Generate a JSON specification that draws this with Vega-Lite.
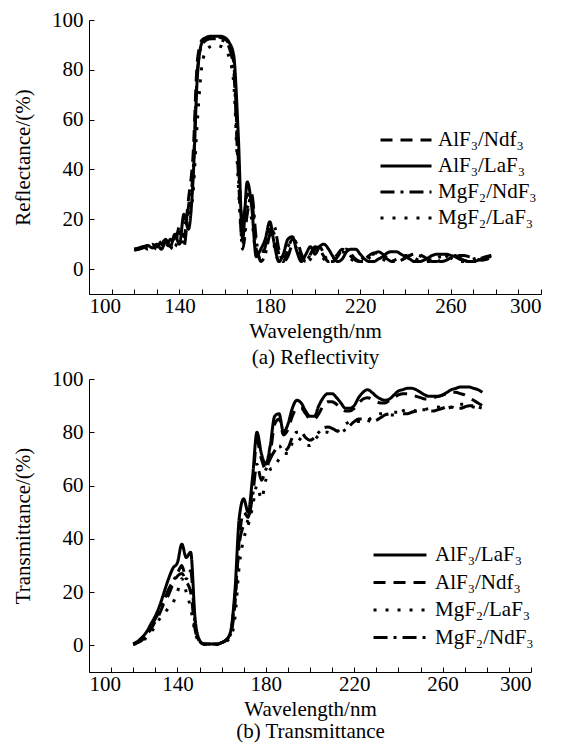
{
"$schema":"https://vega.github.io/schema/vega-lite/v6.json",
"padding":{"left":12,"top":9,"right":20,"bottom":5},
"config":{"font":"Liberation Serif","view":{"stroke":null},
 "axis":{"domainColor":"black","tickColor":"black","labelColor":"black","titleColor":"black","labelFontSize":21,"titleFontSize":21,"titleFontWeight":"normal","grid":false,"tickSize":-5,"labelPadding":11,"labelFont":"Liberation Serif","titleFont":"Liberation Serif"},
 "legend":{"labelFont":"Liberation Serif","labelFontSize":21,"labelColor":"black","padding":0}},
"datasets":{
"R":[
{"s":"a","w":120,"v":8},{"s":"a","w":122,"v":8},{"s":"a","w":124,"v":9},{"s":"a","w":126,"v":8.5},{"s":"a","w":128,"v":10},{"s":"a","w":130,"v":9},{"s":"a","w":132,"v":11},{"s":"a","w":134,"v":9},{"s":"a","w":136,"v":12},{"s":"a","w":138,"v":10},{"s":"a","w":140,"v":17},{"s":"a","w":142,"v":13},{"s":"a","w":144,"v":28},{"s":"a","w":146,"v":45},{"s":"a","w":148,"v":84},{"s":"a","w":150,"v":92},{"s":"a","w":152,"v":93},{"s":"a","w":154,"v":93.5},{"s":"a","w":156,"v":93.5},{"s":"a","w":158,"v":93},{"s":"a","w":160,"v":92.5},{"s":"a","w":162,"v":90},{"s":"a","w":164,"v":83},{"s":"a","w":166,"v":45},{"s":"a","w":168,"v":18},{"s":"a","w":170,"v":30},{"s":"a","w":172,"v":28},{"s":"a","w":174,"v":8},{"s":"a","w":176,"v":4},{"s":"a","w":178,"v":9},{"s":"a","w":180,"v":16},{"s":"a","w":182,"v":14},{"s":"a","w":184,"v":6},{"s":"a","w":186,"v":3},{"s":"a","w":188,"v":8},{"s":"a","w":190,"v":12},{"s":"a","w":192,"v":10},{"s":"a","w":194,"v":5},{"s":"a","w":196,"v":3},{"s":"a","w":198,"v":6},{"s":"a","w":200,"v":9},{"s":"a","w":202,"v":8},{"s":"a","w":204,"v":5},{"s":"a","w":206,"v":3},{"s":"a","w":208,"v":4},{"s":"a","w":210,"v":6},{"s":"a","w":212,"v":8},{"s":"a","w":214,"v":7},{"s":"a","w":216,"v":5},{"s":"a","w":218,"v":3.5},{"s":"a","w":220,"v":3},{"s":"a","w":222,"v":4},{"s":"a","w":224,"v":5.5},{"s":"a","w":226,"v":6.5},{"s":"a","w":228,"v":6.5},{"s":"a","w":230,"v":5.5},{"s":"a","w":232,"v":4},{"s":"a","w":234,"v":3},{"s":"a","w":236,"v":3},{"s":"a","w":238,"v":3.5},{"s":"a","w":240,"v":4.5},{"s":"a","w":242,"v":5.5},{"s":"a","w":244,"v":6},{"s":"a","w":246,"v":6},{"s":"a","w":248,"v":5},{"s":"a","w":250,"v":4},{"s":"a","w":252,"v":3.5},{"s":"a","w":254,"v":3},{"s":"a","w":256,"v":3},{"s":"a","w":258,"v":3.5},{"s":"a","w":260,"v":4.5},{"s":"a","w":262,"v":5},{"s":"a","w":264,"v":5.5},{"s":"a","w":266,"v":5.5},{"s":"a","w":268,"v":5},{"s":"a","w":270,"v":4.5},{"s":"a","w":272,"v":4},{"s":"a","w":274,"v":3.5},{"s":"a","w":276,"v":4},{"s":"a","w":278,"v":4.5},
{"s":"b","w":120,"v":8},{"s":"b","w":122,"v":8.5},{"s":"b","w":124,"v":9},{"s":"b","w":126,"v":9.5},{"s":"b","w":128,"v":8.5},{"s":"b","w":130,"v":10},{"s":"b","w":132,"v":8},{"s":"b","w":134,"v":11},{"s":"b","w":136,"v":9},{"s":"b","w":138,"v":14},{"s":"b","w":140,"v":10},{"s":"b","w":142,"v":22},{"s":"b","w":144,"v":16},{"s":"b","w":146,"v":35},{"s":"b","w":148,"v":78},{"s":"b","w":150,"v":91},{"s":"b","w":152,"v":93},{"s":"b","w":154,"v":93.5},{"s":"b","w":156,"v":93.5},{"s":"b","w":158,"v":93.5},{"s":"b","w":160,"v":93},{"s":"b","w":162,"v":91},{"s":"b","w":164,"v":86},{"s":"b","w":166,"v":55},{"s":"b","w":168,"v":12},{"s":"b","w":170,"v":35},{"s":"b","w":172,"v":25},{"s":"b","w":174,"v":5},{"s":"b","w":176,"v":8},{"s":"b","w":178,"v":12},{"s":"b","w":180,"v":19},{"s":"b","w":182,"v":10},{"s":"b","w":184,"v":3},{"s":"b","w":186,"v":6},{"s":"b","w":188,"v":12},{"s":"b","w":190,"v":13},{"s":"b","w":192,"v":7},{"s":"b","w":194,"v":3},{"s":"b","w":196,"v":6},{"s":"b","w":198,"v":9},{"s":"b","w":200,"v":6},{"s":"b","w":202,"v":9},{"s":"b","w":204,"v":10},{"s":"b","w":206,"v":8},{"s":"b","w":208,"v":5},{"s":"b","w":210,"v":3},{"s":"b","w":212,"v":4},{"s":"b","w":214,"v":7},{"s":"b","w":216,"v":8},{"s":"b","w":218,"v":8},{"s":"b","w":220,"v":6},{"s":"b","w":222,"v":4},{"s":"b","w":224,"v":3},{"s":"b","w":226,"v":3},{"s":"b","w":228,"v":4},{"s":"b","w":230,"v":5},{"s":"b","w":232,"v":6.5},{"s":"b","w":234,"v":7},{"s":"b","w":236,"v":7},{"s":"b","w":238,"v":6},{"s":"b","w":240,"v":5},{"s":"b","w":242,"v":4},{"s":"b","w":244,"v":3},{"s":"b","w":246,"v":3},{"s":"b","w":248,"v":3.5},{"s":"b","w":250,"v":4.5},{"s":"b","w":252,"v":5.5},{"s":"b","w":254,"v":6},{"s":"b","w":256,"v":6},{"s":"b","w":258,"v":6},{"s":"b","w":260,"v":5.5},{"s":"b","w":262,"v":5},{"s":"b","w":264,"v":4},{"s":"b","w":266,"v":3.5},{"s":"b","w":268,"v":3},{"s":"b","w":270,"v":3},{"s":"b","w":272,"v":3.5},{"s":"b","w":274,"v":4},{"s":"b","w":276,"v":5},{"s":"b","w":278,"v":5.5},
{"s":"c","w":120,"v":7.5},{"s":"c","w":122,"v":8},{"s":"c","w":124,"v":8.5},{"s":"c","w":126,"v":9},{"s":"c","w":128,"v":9},{"s":"c","w":130,"v":8},{"s":"c","w":132,"v":10},{"s":"c","w":134,"v":12},{"s":"c","w":136,"v":8},{"s":"c","w":138,"v":13},{"s":"c","w":140,"v":15},{"s":"c","w":142,"v":9},{"s":"c","w":144,"v":25},{"s":"c","w":146,"v":38},{"s":"c","w":148,"v":80},{"s":"c","w":150,"v":90},{"s":"c","w":152,"v":92},{"s":"c","w":154,"v":92.5},{"s":"c","w":156,"v":92.5},{"s":"c","w":158,"v":92},{"s":"c","w":160,"v":91.5},{"s":"c","w":162,"v":89},{"s":"c","w":164,"v":80},{"s":"c","w":166,"v":40},{"s":"c","w":168,"v":8},{"s":"c","w":170,"v":22},{"s":"c","w":172,"v":30},{"s":"c","w":174,"v":12},{"s":"c","w":176,"v":3},{"s":"c","w":178,"v":6},{"s":"c","w":180,"v":14},{"s":"c","w":182,"v":17},{"s":"c","w":184,"v":8},{"s":"c","w":186,"v":3},{"s":"c","w":188,"v":5},{"s":"c","w":190,"v":10},{"s":"c","w":192,"v":11},{"s":"c","w":194,"v":6},{"s":"c","w":196,"v":3},{"s":"c","w":198,"v":4},{"s":"c","w":200,"v":8},{"s":"c","w":202,"v":9},{"s":"c","w":204,"v":6},{"s":"c","w":206,"v":3},{"s":"c","w":208,"v":3},{"s":"c","w":210,"v":5},{"s":"c","w":212,"v":7.5},{"s":"c","w":214,"v":8},{"s":"c","w":216,"v":6},{"s":"c","w":218,"v":4},{"s":"c","w":220,"v":3},{"s":"c","w":222,"v":3},{"s":"c","w":224,"v":4.5},{"s":"c","w":226,"v":6},{"s":"c","w":228,"v":7},{"s":"c","w":230,"v":6},{"s":"c","w":232,"v":4.5},{"s":"c","w":234,"v":3.5},{"s":"c","w":236,"v":3},{"s":"c","w":238,"v":3.5},{"s":"c","w":240,"v":4.5},{"s":"c","w":242,"v":5.5},{"s":"c","w":244,"v":6},{"s":"c","w":246,"v":5.5},{"s":"c","w":248,"v":4.5},{"s":"c","w":250,"v":3.5},{"s":"c","w":252,"v":3},{"s":"c","w":254,"v":3},{"s":"c","w":256,"v":4},{"s":"c","w":258,"v":5},{"s":"c","w":260,"v":5.5},{"s":"c","w":262,"v":5.5},{"s":"c","w":264,"v":4.5},{"s":"c","w":266,"v":3.5},{"s":"c","w":268,"v":3},{"s":"c","w":270,"v":3},{"s":"c","w":272,"v":3.5},{"s":"c","w":274,"v":4.5},{"s":"c","w":276,"v":5},{"s":"c","w":278,"v":5},
{"s":"d","w":120,"v":8},{"s":"d","w":122,"v":8},{"s":"d","w":124,"v":9},{"s":"d","w":126,"v":8},{"s":"d","w":128,"v":9.5},{"s":"d","w":130,"v":9},{"s":"d","w":132,"v":9},{"s":"d","w":134,"v":10},{"s":"d","w":136,"v":11},{"s":"d","w":138,"v":9},{"s":"d","w":140,"v":14},{"s":"d","w":142,"v":18},{"s":"d","w":144,"v":20},{"s":"d","w":146,"v":30},{"s":"d","w":148,"v":60},{"s":"d","w":150,"v":82},{"s":"d","w":152,"v":88},{"s":"d","w":154,"v":89.5},{"s":"d","w":156,"v":90},{"s":"d","w":158,"v":89.5},{"s":"d","w":160,"v":88.5},{"s":"d","w":162,"v":85},{"s":"d","w":164,"v":75},{"s":"d","w":166,"v":35},{"s":"d","w":168,"v":10},{"s":"d","w":170,"v":25},{"s":"d","w":172,"v":20},{"s":"d","w":174,"v":6},{"s":"d","w":176,"v":5},{"s":"d","w":178,"v":10},{"s":"d","w":180,"v":15},{"s":"d","w":182,"v":9},{"s":"d","w":184,"v":3},{"s":"d","w":186,"v":4},{"s":"d","w":188,"v":9},{"s":"d","w":190,"v":11},{"s":"d","w":192,"v":8},{"s":"d","w":194,"v":4},{"s":"d","w":196,"v":3},{"s":"d","w":198,"v":6},{"s":"d","w":200,"v":8},{"s":"d","w":202,"v":7},{"s":"d","w":204,"v":4},{"s":"d","w":206,"v":3},{"s":"d","w":208,"v":4},{"s":"d","w":210,"v":6},{"s":"d","w":212,"v":7},{"s":"d","w":214,"v":6},{"s":"d","w":216,"v":4},{"s":"d","w":218,"v":3},{"s":"d","w":220,"v":3.5},{"s":"d","w":222,"v":5},{"s":"d","w":224,"v":6},{"s":"d","w":226,"v":6},{"s":"d","w":228,"v":5},{"s":"d","w":230,"v":4},{"s":"d","w":232,"v":3},{"s":"d","w":234,"v":3},{"s":"d","w":236,"v":4},{"s":"d","w":238,"v":5},{"s":"d","w":240,"v":5.5},{"s":"d","w":242,"v":5.5},{"s":"d","w":244,"v":4.5},{"s":"d","w":246,"v":3.5},{"s":"d","w":248,"v":3},{"s":"d","w":250,"v":3},{"s":"d","w":252,"v":3.5},{"s":"d","w":254,"v":4.5},{"s":"d","w":256,"v":5},{"s":"d","w":258,"v":5},{"s":"d","w":260,"v":4.5},{"s":"d","w":262,"v":3.5},{"s":"d","w":264,"v":3},{"s":"d","w":266,"v":3},{"s":"d","w":268,"v":3.5},{"s":"d","w":270,"v":4},{"s":"d","w":272,"v":4.5},{"s":"d","w":274,"v":4.5},{"s":"d","w":276,"v":4},{"s":"d","w":278,"v":4}
],
"T":[
{"s":"a","w":120,"v":0.5},{"s":"a","w":122,"v":1},{"s":"a","w":124,"v":2},{"s":"a","w":126,"v":4},{"s":"a","w":128,"v":6},{"s":"a","w":130,"v":9},{"s":"a","w":132,"v":12},{"s":"a","w":134,"v":16},{"s":"a","w":136,"v":19},{"s":"a","w":138,"v":23},{"s":"a","w":140,"v":26},{"s":"a","w":142,"v":27},{"s":"a","w":144,"v":24},{"s":"a","w":146,"v":20},{"s":"a","w":148,"v":6},{"s":"a","w":150,"v":1.5},{"s":"a","w":152,"v":0.5},{"s":"a","w":154,"v":0.5},{"s":"a","w":156,"v":0.5},{"s":"a","w":158,"v":0.5},{"s":"a","w":160,"v":1},{"s":"a","w":162,"v":2},{"s":"a","w":164,"v":4},{"s":"a","w":166,"v":15},{"s":"a","w":168,"v":40},{"s":"a","w":170,"v":50},{"s":"a","w":172,"v":48},{"s":"a","w":174,"v":60},{"s":"a","w":176,"v":77},{"s":"a","w":178,"v":70},{"s":"a","w":180,"v":66},{"s":"a","w":182,"v":72},{"s":"a","w":184,"v":83},{"s":"a","w":186,"v":85},{"s":"a","w":188,"v":79},{"s":"a","w":190,"v":81},{"s":"a","w":192,"v":86},{"s":"a","w":194,"v":89},{"s":"a","w":196,"v":89},{"s":"a","w":198,"v":87},{"s":"a","w":200,"v":85},{"s":"a","w":202,"v":85},{"s":"a","w":204,"v":87},{"s":"a","w":206,"v":90},{"s":"a","w":208,"v":91.5},{"s":"a","w":210,"v":91.5},{"s":"a","w":212,"v":90.5},{"s":"a","w":214,"v":89},{"s":"a","w":216,"v":88},{"s":"a","w":218,"v":88},{"s":"a","w":220,"v":89},{"s":"a","w":222,"v":91},{"s":"a","w":224,"v":92.5},{"s":"a","w":226,"v":93},{"s":"a","w":228,"v":92.5},{"s":"a","w":230,"v":91.5},{"s":"a","w":232,"v":91},{"s":"a","w":234,"v":91},{"s":"a","w":236,"v":92},{"s":"a","w":238,"v":93},{"s":"a","w":240,"v":94},{"s":"a","w":242,"v":94.5},{"s":"a","w":244,"v":94.5},{"s":"a","w":246,"v":94},{"s":"a","w":248,"v":93.5},{"s":"a","w":250,"v":93},{"s":"a","w":252,"v":92.5},{"s":"a","w":254,"v":92.5},{"s":"a","w":256,"v":93},{"s":"a","w":258,"v":93.5},{"s":"a","w":260,"v":94},{"s":"a","w":262,"v":94.5},{"s":"a","w":264,"v":95},{"s":"a","w":266,"v":95},{"s":"a","w":268,"v":94.5},{"s":"a","w":270,"v":94},{"s":"a","w":272,"v":93},{"s":"a","w":274,"v":92},{"s":"a","w":276,"v":91},{"s":"a","w":278,"v":90},
{"s":"b","w":120,"v":0.5},{"s":"b","w":122,"v":1.5},{"s":"b","w":124,"v":3},{"s":"b","w":126,"v":5},{"s":"b","w":128,"v":8},{"s":"b","w":130,"v":11},{"s":"b","w":132,"v":15},{"s":"b","w":134,"v":20},{"s":"b","w":136,"v":25},{"s":"b","w":138,"v":29},{"s":"b","w":140,"v":31},{"s":"b","w":142,"v":38},{"s":"b","w":144,"v":33},{"s":"b","w":146,"v":35},{"s":"b","w":148,"v":10},{"s":"b","w":150,"v":2},{"s":"b","w":152,"v":0.5},{"s":"b","w":154,"v":0.5},{"s":"b","w":156,"v":0.5},{"s":"b","w":158,"v":0.5},{"s":"b","w":160,"v":1},{"s":"b","w":162,"v":2},{"s":"b","w":164,"v":5},{"s":"b","w":166,"v":20},{"s":"b","w":168,"v":48},{"s":"b","w":170,"v":55},{"s":"b","w":172,"v":50},{"s":"b","w":174,"v":63},{"s":"b","w":176,"v":80},{"s":"b","w":178,"v":72},{"s":"b","w":180,"v":68},{"s":"b","w":182,"v":75},{"s":"b","w":184,"v":86},{"s":"b","w":186,"v":87},{"s":"b","w":188,"v":80},{"s":"b","w":190,"v":83},{"s":"b","w":192,"v":89},{"s":"b","w":194,"v":92},{"s":"b","w":196,"v":91},{"s":"b","w":198,"v":88},{"s":"b","w":200,"v":86},{"s":"b","w":202,"v":86},{"s":"b","w":204,"v":90},{"s":"b","w":206,"v":93},{"s":"b","w":208,"v":94.5},{"s":"b","w":210,"v":94.5},{"s":"b","w":212,"v":93},{"s":"b","w":214,"v":91},{"s":"b","w":216,"v":89},{"s":"b","w":218,"v":89},{"s":"b","w":220,"v":90},{"s":"b","w":222,"v":93},{"s":"b","w":224,"v":95},{"s":"b","w":226,"v":96},{"s":"b","w":228,"v":95},{"s":"b","w":230,"v":93.5},{"s":"b","w":232,"v":92.5},{"s":"b","w":234,"v":92},{"s":"b","w":236,"v":92.5},{"s":"b","w":238,"v":94},{"s":"b","w":240,"v":95.5},{"s":"b","w":242,"v":96},{"s":"b","w":244,"v":96.5},{"s":"b","w":246,"v":96.5},{"s":"b","w":248,"v":96},{"s":"b","w":250,"v":95},{"s":"b","w":252,"v":94},{"s":"b","w":254,"v":93.5},{"s":"b","w":256,"v":93.5},{"s":"b","w":258,"v":93.5},{"s":"b","w":260,"v":94},{"s":"b","w":262,"v":95},{"s":"b","w":264,"v":96},{"s":"b","w":266,"v":96.5},{"s":"b","w":268,"v":97},{"s":"b","w":270,"v":97},{"s":"b","w":272,"v":97},{"s":"b","w":274,"v":96.5},{"s":"b","w":276,"v":96},{"s":"b","w":278,"v":95},
{"s":"c","w":120,"v":0.5},{"s":"c","w":122,"v":1.2},{"s":"c","w":124,"v":2.5},{"s":"c","w":126,"v":4.5},{"s":"c","w":128,"v":7},{"s":"c","w":130,"v":10},{"s":"c","w":132,"v":13},{"s":"c","w":134,"v":17},{"s":"c","w":136,"v":21},{"s":"c","w":138,"v":24},{"s":"c","w":140,"v":27},{"s":"c","w":142,"v":30},{"s":"c","w":144,"v":25},{"s":"c","w":146,"v":28},{"s":"c","w":148,"v":8},{"s":"c","w":150,"v":1.5},{"s":"c","w":152,"v":0.5},{"s":"c","w":154,"v":0.5},{"s":"c","w":156,"v":0.5},{"s":"c","w":158,"v":0.5},{"s":"c","w":160,"v":1},{"s":"c","w":162,"v":2},{"s":"c","w":164,"v":4},{"s":"c","w":166,"v":18},{"s":"c","w":168,"v":38},{"s":"c","w":170,"v":45},{"s":"c","w":172,"v":47},{"s":"c","w":174,"v":56},{"s":"c","w":176,"v":68},{"s":"c","w":178,"v":62},{"s":"c","w":180,"v":66},{"s":"c","w":182,"v":70},{"s":"c","w":184,"v":73},{"s":"c","w":186,"v":75},{"s":"c","w":188,"v":73},{"s":"c","w":190,"v":74},{"s":"c","w":192,"v":78},{"s":"c","w":194,"v":80},{"s":"c","w":196,"v":80},{"s":"c","w":198,"v":78},{"s":"c","w":200,"v":77},{"s":"c","w":202,"v":78},{"s":"c","w":204,"v":80},{"s":"c","w":206,"v":81.5},{"s":"c","w":208,"v":82},{"s":"c","w":210,"v":81.5},{"s":"c","w":212,"v":80.5},{"s":"c","w":214,"v":80},{"s":"c","w":216,"v":81},{"s":"c","w":218,"v":82.5},{"s":"c","w":220,"v":84},{"s":"c","w":222,"v":85},{"s":"c","w":224,"v":85},{"s":"c","w":226,"v":84.5},{"s":"c","w":228,"v":84},{"s":"c","w":230,"v":84.5},{"s":"c","w":232,"v":85.5},{"s":"c","w":234,"v":86.5},{"s":"c","w":236,"v":87},{"s":"c","w":238,"v":87.5},{"s":"c","w":240,"v":87.5},{"s":"c","w":242,"v":87},{"s":"c","w":244,"v":87},{"s":"c","w":246,"v":87.5},{"s":"c","w":248,"v":88},{"s":"c","w":250,"v":88.5},{"s":"c","w":252,"v":88.5},{"s":"c","w":254,"v":88},{"s":"c","w":256,"v":88},{"s":"c","w":258,"v":88.5},{"s":"c","w":260,"v":89},{"s":"c","w":262,"v":89.5},{"s":"c","w":264,"v":89.5},{"s":"c","w":266,"v":89},{"s":"c","w":268,"v":89},{"s":"c","w":270,"v":89.5},{"s":"c","w":272,"v":90},{"s":"c","w":274,"v":90},{"s":"c","w":276,"v":89.5},{"s":"c","w":278,"v":89},
{"s":"d","w":120,"v":0.3},{"s":"d","w":122,"v":0.8},{"s":"d","w":124,"v":1.5},{"s":"d","w":126,"v":3},{"s":"d","w":128,"v":5},{"s":"d","w":130,"v":7},{"s":"d","w":132,"v":10},{"s":"d","w":134,"v":12},{"s":"d","w":136,"v":14},{"s":"d","w":138,"v":16},{"s":"d","w":140,"v":20},{"s":"d","w":142,"v":25},{"s":"d","w":144,"v":20},{"s":"d","w":146,"v":14},{"s":"d","w":148,"v":5},{"s":"d","w":150,"v":1},{"s":"d","w":152,"v":0.3},{"s":"d","w":154,"v":0.3},{"s":"d","w":156,"v":0.3},{"s":"d","w":158,"v":0.3},{"s":"d","w":160,"v":0.5},{"s":"d","w":162,"v":1.5},{"s":"d","w":164,"v":3},{"s":"d","w":166,"v":10},{"s":"d","w":168,"v":30},{"s":"d","w":170,"v":40},{"s":"d","w":172,"v":45},{"s":"d","w":174,"v":52},{"s":"d","w":176,"v":60},{"s":"d","w":178,"v":55},{"s":"d","w":180,"v":62},{"s":"d","w":182,"v":66},{"s":"d","w":184,"v":67},{"s":"d","w":186,"v":70},{"s":"d","w":188,"v":72},{"s":"d","w":190,"v":72},{"s":"d","w":192,"v":76},{"s":"d","w":194,"v":78},{"s":"d","w":196,"v":77},{"s":"d","w":198,"v":75},{"s":"d","w":200,"v":75},{"s":"d","w":202,"v":77},{"s":"d","w":204,"v":79},{"s":"d","w":206,"v":80},{"s":"d","w":208,"v":80},{"s":"d","w":210,"v":79.5},{"s":"d","w":212,"v":80},{"s":"d","w":214,"v":81.5},{"s":"d","w":216,"v":83},{"s":"d","w":218,"v":84},{"s":"d","w":220,"v":84.5},{"s":"d","w":222,"v":84},{"s":"d","w":224,"v":84},{"s":"d","w":226,"v":84.5},{"s":"d","w":228,"v":85.5},{"s":"d","w":230,"v":86.5},{"s":"d","w":232,"v":87},{"s":"d","w":234,"v":87},{"s":"d","w":236,"v":86.5},{"s":"d","w":238,"v":86.5},{"s":"d","w":240,"v":87},{"s":"d","w":242,"v":88},{"s":"d","w":244,"v":88.5},{"s":"d","w":246,"v":88.5},{"s":"d","w":248,"v":88},{"s":"d","w":250,"v":88},{"s":"d","w":252,"v":88.5},{"s":"d","w":254,"v":89},{"s":"d","w":256,"v":89.5},{"s":"d","w":258,"v":89.5},{"s":"d","w":260,"v":89},{"s":"d","w":262,"v":89},{"s":"d","w":264,"v":89.5},{"s":"d","w":266,"v":90},{"s":"d","w":268,"v":90.5},{"s":"d","w":270,"v":90.5},{"s":"d","w":272,"v":90},{"s":"d","w":274,"v":89.5},{"s":"d","w":276,"v":89},{"s":"d","w":278,"v":88.5}
]},
"bounds":"flush",
"spacing":85,
"resolve":{"scale":{"strokeDash":"independent","x":"independent","y":"independent"},"legend":{"strokeDash":"independent"}},
"vconcat":[
{"width":452,"height":274,"data":{"name":"R"},
 "mark":{"type":"line","strokeWidth":3,"color":"black","interpolate":"monotone"},
 "encoding":{
  "x":{"field":"w","type":"quantitative","scale":{"domain":[100,300],"nice":false},
   "axis":{"values":[100,110,120,130,140,150,160,170,180,190,200,210,220,230,240,250,260,270,280,290,300],"labelExpr":"datum.value % 40 == 20 ? datum.label : ''","title":["Wavelength/nm","(a) Reflectivity"],"titleLineHeight":26,"labelPadding":6,"titlePadding":4}},
  "y":{"field":"v","type":"quantitative","scale":{"domain":[-10,100],"nice":false},
   "axis":{"values":[0,20,40,60,80,100],"title":"Reflectance/(%)","titlePadding":18}},
  "strokeDash":{"field":"s","type":"nominal","scale":{"domain":["a","b","c","d"],"range":[[12,8],[1,0],[14,6,3,6],[3,9]]},
   "legend":{"orient":"none","legendX":305,"legendY":108,"title":null,"symbolType":"M-2.43,0H2.43","symbolSize":441,"symbolStrokeWidth":3,"symbolStrokeColor":"black","symbolFillColor":"transparent","rowPadding":4,"labelOffset":20,
    "labelExpr":"datum.label == 'a' ? 'AlF₃/Ndf₃' : datum.label == 'b' ? 'AlF₃/LaF₃' : datum.label == 'c' ? 'MgF₂/NdF₃' : 'MgF₂/LaF₃'"}}
 }},
{"width":442,"height":293,"data":{"name":"T"},
 "mark":{"type":"line","strokeWidth":3,"color":"black","interpolate":"monotone"},
 "encoding":{
  "x":{"field":"w","type":"quantitative","scale":{"domain":[100,300],"nice":false},
   "axis":{"values":[100,110,120,130,140,150,160,170,180,190,200,210,220,230,240,250,260,270,280,290,300],"labelExpr":"datum.value % 40 == 20 ? datum.label : ''","title":["Wavelength/nm","(b) Transmittance"],"titleLineHeight":22,"labelPadding":6,"titlePadding":4}},
  "y":{"field":"v","type":"quantitative","scale":{"domain":[-10,100],"nice":false},
   "axis":{"values":[0,20,40,60,80,100],"title":"Transmittance/(%)","titlePadding":18}},
  "strokeDash":{"field":"s","type":"nominal","scale":{"domain":["b","a","d","c"],"range":[[1,0],[12,8],[3,9],[14,6,3,6]]},
   "legend":{"orient":"none","legendX":299,"legendY":164,"title":null,"symbolType":"M-2.52,0H2.52","symbolSize":441,"symbolStrokeWidth":3,"symbolStrokeColor":"black","symbolFillColor":"transparent","rowPadding":5.5,"labelOffset":23,
    "labelExpr":"datum.label == 'a' ? 'AlF₃/Ndf₃' : datum.label == 'b' ? 'AlF₃/LaF₃' : datum.label == 'c' ? 'MgF₂/NdF₃' : 'MgF₂/LaF₃'"}}
 }}
]}
